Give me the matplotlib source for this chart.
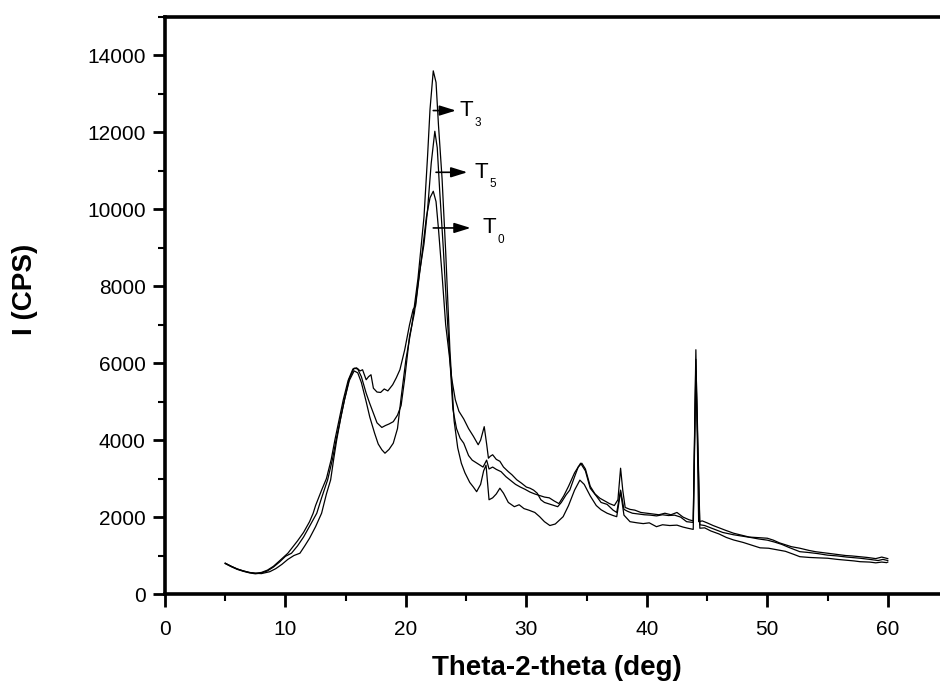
import matplotlib
matplotlib.use("Agg")
import matplotlib.pyplot as plt
from matplotlib.ticker import MultipleLocator
from matplotlib.transforms import offset_copy

plt.rcParams['font.family'] = ['Liberation Sans', 'DejaVu Sans']

# T0 - highest amorphous background
t0_x = [5.0, 5.5, 6.0, 6.5, 7.0, 7.5, 8.0, 8.5, 9.0, 9.5, 10.2, 10.5, 11.0, 11.5, 12.0,
        12.3, 12.5, 13.0, 13.4, 13.8, 14.1, 14.5, 14.8, 15.2, 15.6, 15.9, 16.2, 16.4,
        16.7, 16.9, 17.1, 17.3, 17.6, 17.9, 18.2, 18.5, 18.9, 19.2, 19.5, 19.9, 20.3,
        20.6, 20.8, 21.0, 21.4, 21.7, 22.0, 22.27, 22.5, 22.7, 23.0, 23.3, 23.6, 23.8,
        24.1, 24.4, 24.8, 25.2, 25.6, 26.0, 26.2, 26.5, 26.7, 26.85, 27.0, 27.2, 27.5,
        27.8, 28.1, 28.5, 28.8, 29.2, 29.6, 30.0, 30.3, 30.6, 30.9, 31.2, 31.5, 31.9,
        32.3, 32.6, 32.9, 33.3, 33.6, 34.0, 34.3, 34.6, 34.9, 35.3, 35.7, 36.1, 36.5,
        36.9, 37.3, 37.6, 37.82, 38.0, 38.2, 38.6, 39.0, 39.5, 40.0, 40.5, 41.0, 41.5,
        42.0, 42.5, 43.0, 43.5, 43.85, 44.07, 44.3, 44.6, 45.0, 45.5, 46.0, 46.5, 47.2,
        48.0, 48.5, 49.0, 50.0, 50.5, 51.0, 51.5, 52.0, 52.7, 53.5, 54.0, 55.0, 55.5,
        56.0, 56.5, 57.0, 57.7, 58.3, 59.0, 59.5, 60.0]
t0_y = [800, 720, 650, 600, 560, 540, 560, 620, 720, 860, 1060, 1180, 1380, 1600, 1880,
        2100, 2300, 2700, 3000, 3500, 4000, 4600, 5050, 5550, 5850, 5880, 5800, 5830,
        5570, 5650, 5700, 5350, 5250, 5240, 5330, 5280, 5440, 5620, 5830, 6350, 7000,
        7400, 7480, 8000, 9000, 9800, 10300, 10470, 10200, 9500, 8300, 7000, 6200, 5600,
        5050, 4750, 4550, 4300, 4100, 3880, 4000, 4350, 3900, 3530, 3580, 3620, 3500,
        3450, 3300, 3180, 3100, 2970, 2880, 2780, 2750, 2700, 2620, 2450, 2380, 2340,
        2300, 2270, 2380, 2580, 2700, 3050, 3300, 3400, 3250, 2800, 2600, 2490, 2420,
        2350, 2300, 2450, 3270, 2700, 2250, 2200, 2180, 2120, 2100, 2080, 2060, 2100,
        2060, 2120, 2000, 1930, 1900, 6350, 1880, 1900, 1850, 1780, 1720, 1660, 1580,
        1520, 1480, 1470, 1450, 1400, 1330, 1280, 1230, 1190, 1130, 1100, 1060, 1040,
        1020, 1000, 990, 970, 950, 920, 960, 920]

# T5 - middle curve
t5_x = [5.0, 5.5, 6.0, 6.5, 7.0, 7.5, 8.0, 8.5, 9.0, 9.5, 10.0, 10.5, 11.0, 11.5, 12.0,
        12.6, 13.0, 13.5, 13.9, 14.2, 14.5, 14.9, 15.3, 15.7, 16.0, 16.3, 16.7, 17.0,
        17.3, 17.6, 18.0, 18.3, 18.6, 18.95, 19.3, 19.6, 19.9, 20.3, 20.7, 21.1, 21.5,
        21.8, 22.1, 22.4, 22.6, 22.8, 23.1, 23.35, 23.65, 23.9, 24.2, 24.5, 24.8, 25.2,
        25.5, 25.8, 26.1, 26.4, 26.7, 26.9, 27.2, 27.5, 27.9, 28.3, 28.7, 29.1, 29.5,
        29.9, 30.3, 30.7, 31.1, 31.5, 31.9, 32.3, 32.7, 33.1, 33.5, 34.0, 34.5, 34.9,
        35.3, 35.8, 36.2, 36.7, 37.2, 37.5, 37.82, 38.1, 38.4, 38.8, 39.3, 39.8, 40.3,
        40.8, 41.3, 41.8, 42.3, 42.8, 43.3, 43.85, 44.07, 44.4, 44.8, 45.3, 45.8, 46.3,
        47.2, 48.0, 48.6, 49.3, 50.0, 50.6, 51.2, 51.8, 52.7, 53.4, 54.2, 55.0, 55.8,
        56.6, 57.7, 58.5, 59.2, 59.6, 60.0]
t5_y = [790, 710, 640, 590, 550, 525, 545, 600, 700, 830, 980, 1060, 1250, 1480, 1760,
        2100, 2500, 2966, 3500, 4000, 4450, 5050, 5600, 5870, 5850, 5650, 5220, 4950,
        4700, 4450, 4330, 4380, 4420, 4480, 4650, 4900, 5600, 6700, 7300, 8300, 9100,
        10000, 11200, 12030, 11600, 10500, 9000, 7600, 6100, 4800, 4300, 4050, 3920, 3600,
        3480, 3420, 3360, 3300, 3480, 3250, 3300, 3240, 3180, 3050, 2950, 2850, 2780,
        2720, 2650, 2600, 2560, 2520, 2500, 2420, 2350, 2550, 2800, 3150, 3400, 3200,
        2750, 2550, 2380, 2330, 2180, 2120, 2700, 2200, 2150, 2100, 2080, 2060, 2050,
        2030, 2060, 2040, 2050, 2000, 1880, 1860, 6100, 1800, 1780, 1720, 1660, 1600,
        1540, 1500, 1470, 1430, 1400, 1350, 1290, 1210, 1100, 1080, 1050, 1010, 990,
        960, 930, 900, 870, 900, 870]

# T3 - tallest crystalline peak, lowest background
t3_x = [5.0, 5.5, 6.0, 6.5, 7.0, 7.5, 8.0, 8.7, 9.2, 9.7, 10.2, 10.7, 11.2, 11.6, 12.0,
        12.5, 13.0, 13.4, 13.75, 14.0, 14.25, 14.6, 14.9, 15.3, 15.7, 16.0, 16.3, 16.7,
        17.0, 17.4, 17.7, 18.0, 18.26, 18.6, 18.95, 19.3, 19.6, 20.0, 20.5, 21.0, 21.5,
        21.8, 22.0, 22.27, 22.5, 22.7, 23.0, 23.3, 23.65, 23.8, 24.0, 24.3, 24.6, 24.9,
        25.3, 25.6, 25.87, 26.2, 26.45, 26.65, 26.9, 27.2, 27.5, 27.8, 28.1, 28.5, 29.0,
        29.4, 29.8, 30.2, 30.7, 31.1, 31.5, 31.95, 32.4, 33.05, 33.5, 34.0, 34.44, 34.8,
        35.3, 35.8, 36.2, 36.7, 37.2, 37.5, 37.82, 38.1, 38.6, 39.2, 39.7, 40.2, 40.8,
        41.3, 41.9, 42.5, 43.0, 43.4, 43.85, 44.07, 44.4, 44.8, 45.3, 46.0, 46.6, 47.2,
        48.0, 48.7, 49.4, 50.1, 50.8, 51.5, 52.2, 52.7, 53.5, 54.2, 55.0, 55.8, 56.5,
        57.2, 57.7, 58.5, 59.0, 59.5, 59.9, 60.0]
t3_y = [800, 720, 650, 600, 560, 540, 530, 580, 660, 770, 900, 1000, 1060, 1250, 1450,
        1750, 2100, 2600, 2966, 3500, 4000, 4600, 5050, 5550, 5800, 5750, 5500, 5000,
        4600, 4180, 3900, 3750, 3660, 3760, 3920, 4300, 5100, 6100, 7000, 8200, 9800,
        11400, 12600, 13600, 13300, 12200, 10800, 8900, 6350, 5550, 4500, 3800, 3400, 3150,
        2900, 2780, 2660, 2850, 3200, 3350, 2450, 2500, 2600, 2750, 2620, 2380, 2270,
        2320, 2220, 2180, 2120, 2010, 1880, 1780, 1820, 2010, 2300, 2700, 2960, 2850,
        2550, 2300, 2190, 2100, 2040, 2010, 2660, 2050, 1880, 1850, 1830, 1850, 1750,
        1800, 1780, 1790, 1740, 1710, 1680, 5800, 1710, 1720, 1640, 1560, 1470, 1405,
        1340, 1270, 1200, 1190, 1150, 1110, 1030, 970, 950, 940, 930, 900, 880,
        860, 840, 830, 810, 830, 815, 830]

# arrow labels: (name, subscript, arrow start x, arrow end x, y, text x)
labels = [("T", "3", 22.27, 24.15, 12568, 24.48),
          ("T", "5", 22.5, 25.1, 10963, 25.73),
          ("T", "0", 22.27, 25.37, 9516, 26.33)]

fig = plt.figure(figsize=(9.4, 6.87), dpi=100)
ax = fig.add_axes([165 / 940, 1 - 594 / 687, (948 - 165) / 940, (594 - 17) / 687])

for xs, ys in [(t0_x, t0_y), (t5_x, t5_y), (t3_x, t3_y)]:
    ax.plot(xs, ys, color='black', lw=0.9)

for name, sub, xa, xb, y, xt in labels:
    ax.annotate('', xy=(xb, y), xytext=(xa, y),
                arrowprops=dict(arrowstyle='-|>,head_length=0.45,head_width=0.14',
                                color='black', lw=1.2, mutation_scale=22,
                                shrinkA=0, shrinkB=0))
    ax.text(xt, y, name, fontsize=16, va='center', ha='left')
    tr = offset_copy(ax.transData, fig=fig, x=15, y=-12, units='dots')
    ax.text(xt, y, sub, fontsize=8.5, va='center', ha='left', transform=tr)

ax.set_xlim(0, 65)
ax.set_ylim(0, 15000)
ax.xaxis.set_major_locator(MultipleLocator(10))
ax.xaxis.set_minor_locator(MultipleLocator(5))
ax.yaxis.set_major_locator(MultipleLocator(2000))
ax.yaxis.set_minor_locator(MultipleLocator(1000))
ax.tick_params(which='major', direction='out', length=9, width=2, labelsize=15, pad=5)
ax.tick_params(axis='x', which='major', pad=10)
ax.tick_params(which='minor', direction='out', length=5, width=1.5)
ax.tick_params(top=False, right=False, which='both')

for s in ['left', 'bottom', 'top']:
    ax.spines[s].set_linewidth(2.6)
ax.spines['right'].set_visible(False)

ax.set_xlabel('Theta-2-theta (deg)', fontsize=20, fontweight='bold', labelpad=11)
fig.text(25 / 940, 1 - 289 / 687, 'I (CPS)', fontsize=20, fontweight='bold',
         rotation=90, ha='center', va='center')

fig.savefig('out.png', dpi=100)
